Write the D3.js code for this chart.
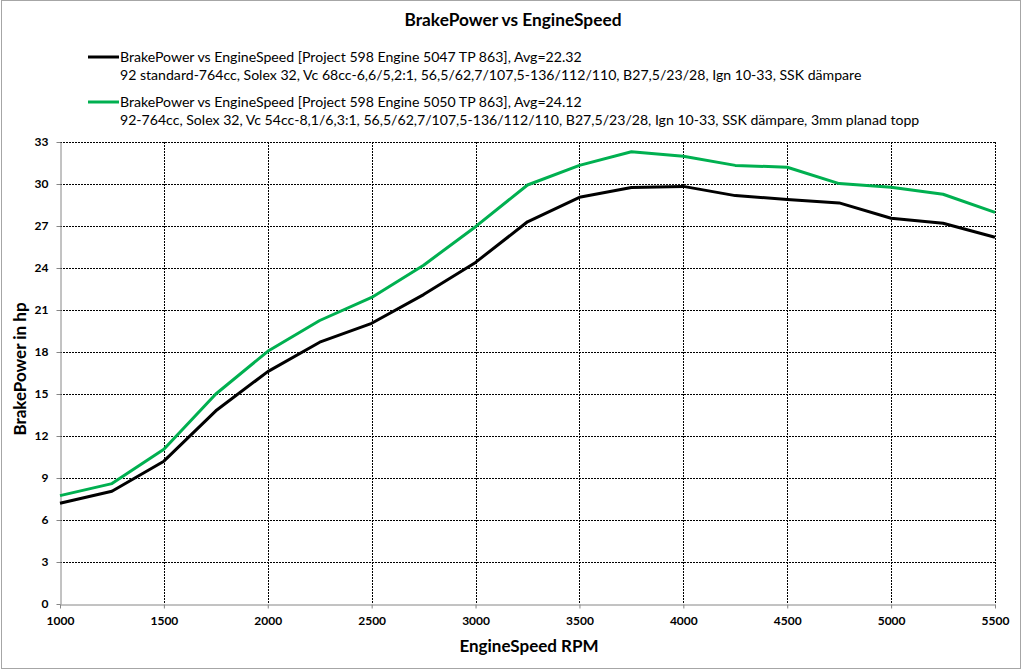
<!DOCTYPE html>
<html lang="en">
<head>
    <meta charset="utf-8" />
    <title>BrakePower vs EngineSpeed</title>
    <script src="https://d3js.org/d3.v7.min.js"></script>
    <style>
        body { margin: 0; background: #fff; }
        text { font-family: Lato, "Open Sans", sans-serif; }
    </style>
</head>
<body>
<script>
    var w = 1027;
    var h = 671;

    // data
    var rpm = [1000, 1250, 1500, 1750, 2000, 2250, 2500, 2750, 3000, 3250,
               3500, 3750, 4000, 4250, 4500, 4750, 5000, 5250, 5500];
    var power5047 = [7.2, 8.05, 10.2, 13.8, 16.6, 18.7, 20.05, 22.1, 24.4, 27.3,
                     29.05, 29.75, 29.83, 29.17, 28.9, 28.65, 27.55, 27.2, 26.2];
    var power5050 = [7.74, 8.6, 11.05, 15.0, 18.05, 20.25, 21.9, 24.2, 26.95, 29.93,
                     31.33, 32.3, 31.98, 31.33, 31.2, 30.03, 29.76, 29.27, 27.97];
    var xTicks = [1000, 1500, 2000, 2500, 3000, 3500, 4000, 4500, 5000, 5500];
    var yTicks = [0, 3, 6, 9, 12, 15, 18, 21, 24, 27, 30, 33];

    var series = [
        { values: power5047, color: "#000000",
          name: "BrakePower vs EngineSpeed [Project 598 Engine 5047 TP 863], Avg=22.32",
          note: "92 standard-764cc, Solex 32, Vc 68cc-6,6/5,2:1, 56,5/62,7/107,5-136/112/110, B27,5/23/28, Ign 10-33, SSK dämpare" },
        { values: power5050, color: "#00B050",
          name: "BrakePower vs EngineSpeed [Project 598 Engine 5050 TP 863], Avg=24.12",
          note: "92-764cc, Solex 32, Vc 54cc-8,1/6,3:1, 56,5/62,7/107,5-136/112/110, B27,5/23/28, Ign 10-33, SSK dämpare, 3mm planad topp" }
    ];

    // plot area (don't call these top/left, window.top is taken)
    var pLeft = 60, pRight = 995, pTop = 142, pBottom = 604;

    var xScale = d3.scaleLinear().domain([1000, 5500]).range([pLeft, pRight]);
    var yScale = d3.scaleLinear().domain([0, 33]).range([pBottom, pTop]);

    var svg = d3.select("body").append("svg")
        .attr("width", w)
        .attr("height", h);

    // chart frame
    svg.append("rect")
        .attr("x", 1.5).attr("y", 0.5)
        .attr("width", 1019).attr("height", 668)
        .attr("fill", "#fff")
        .attr("stroke", "#a6a6a6");

    // title
    svg.append("text")
        .attr("x", 513).attr("y", 26)
        .attr("text-anchor", "middle")
        .attr("font-size", "17.3px")
        .attr("font-weight", "bold")
        .text("BrakePower vs EngineSpeed");

    // legend
    var legend = svg.selectAll(".legend")
        .data(series)
        .enter()
        .append("g")
        .attr("transform", function(d, i) { return "translate(88," + (57 + i * 45) + ")"; });

    legend.append("line")
        .attr("x1", 0).attr("x2", 31)
        .attr("stroke", function(d) { return d.color; })
        .attr("stroke-width", 3);

    legend.append("text")
        .attr("x", 32).attr("y", 5)
        .attr("font-size", "14.1px")
        .text(function(d) { return d.name; });

    legend.append("text")
        .attr("x", 32).attr("y", 23)
        .attr("font-size", "14.1px")
        .text(function(d) { return d.note; });

    // gridlines
    svg.append("g")
        .selectAll("line")
        .data(yTicks.slice(1))
        .enter()
        .append("line")
        .attr("x1", pLeft).attr("x2", pRight)
        .attr("y1", function(d) { return Math.round(yScale(d)) + 0.5; })
        .attr("y2", function(d) { return Math.round(yScale(d)) + 0.5; })
        .attr("stroke", "#000")
        .attr("stroke-dasharray", "2,1");

    svg.append("g")
        .selectAll("line")
        .data(xTicks.slice(1))
        .enter()
        .append("line")
        .attr("x1", function(d) { return Math.round(xScale(d)) + 0.5; })
        .attr("x2", function(d) { return Math.round(xScale(d)) + 0.5; })
        .attr("y1", pTop).attr("y2", pBottom)
        .attr("stroke", "#000")
        .attr("stroke-dasharray", "2,1");

    // axes
    var xAxis = svg.append("g")
        .attr("transform", "translate(0," + (pBottom + 0.5) + ")")
        .call(d3.axisBottom(xScale).tickValues(xTicks).tickFormat(d3.format("d"))
            .tickSize(4).tickSizeOuter(0).tickPadding(8));
    var yAxis = svg.append("g")
        .attr("transform", "translate(" + (pLeft + 0.5) + ",0)")
        .call(d3.axisLeft(yScale).tickValues(yTicks).tickFormat(d3.format("d"))
            .tickSize(4).tickSizeOuter(0).tickPadding(8));

    [xAxis, yAxis].forEach(function(a) {
        a.selectAll("path, line").attr("stroke", "#868686");
        a.selectAll("text")
            .attr("font-family", "Lato, sans-serif")
            .attr("font-size", "12px")
            .attr("font-weight", "bold")
            .attr("fill", "#000");
    });

    // axis titles
    svg.append("text")
        .attr("x", 529).attr("y", 652)
        .attr("text-anchor", "middle")
        .attr("font-size", "17px")
        .attr("font-weight", "bold")
        .text("EngineSpeed RPM");

    svg.append("text")
        .attr("transform", "translate(26,369) rotate(-90)")
        .attr("text-anchor", "middle")
        .attr("font-size", "17px")
        .attr("font-weight", "bold")
        .text("BrakePower in hp");

    // lines
    var line = d3.line()
        .x(function(d, i) { return xScale(rpm[i]); })
        .y(function(d) { return yScale(d); });

    svg.selectAll(".series")
        .data(series)
        .enter()
        .append("path")
        .attr("d", function(d) { return line(d.values); })
        .attr("fill", "none")
        .attr("stroke", function(d) { return d.color; })
        .attr("stroke-width", 3)
        .attr("stroke-linejoin", "round");
</script>
</body>
</html>
